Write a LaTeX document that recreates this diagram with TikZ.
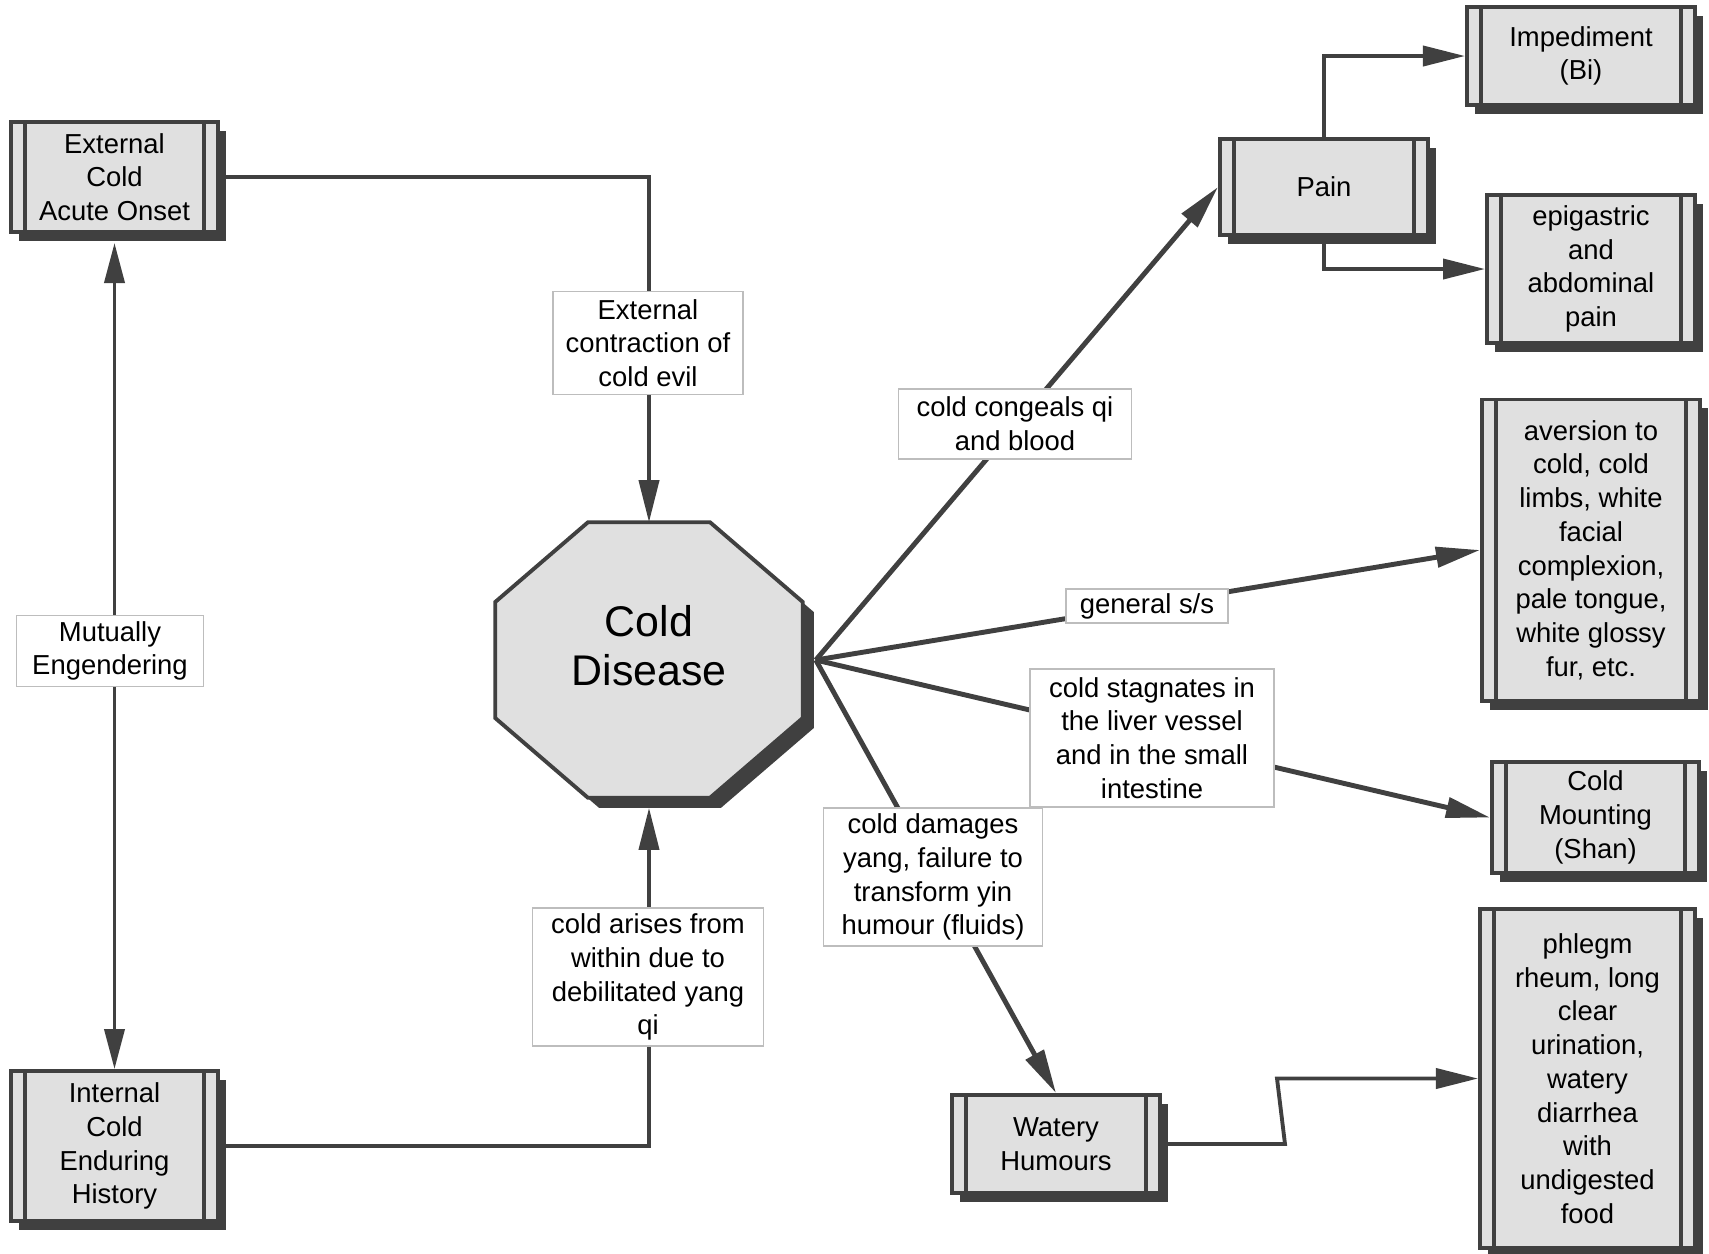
\documentclass[tikz,border=0pt]{standalone}
\usepackage{fontspec}
\setmainfont{Liberation Sans}
\usepackage{tikz}
\usetikzlibrary{calc,arrows.meta,shadows}
\definecolor{dgray}{HTML}{404040}
\definecolor{lgray}{HTML}{E0E0E0}
\definecolor{lblgray}{HTML}{BDBDBD}

\begin{document}
\begin{tikzpicture}[x=0.01cm,y=-0.01cm,
    box/.style={draw=dgray,line width=1.1pt,fill=lgray,align=center,inner sep=0pt,
      font=\fontsize{7.8}{9.6}\selectfont,
      drop shadow={shadow xshift=0.08cm,shadow yshift=-0.09cm,fill=dgray,opacity=1},
      path picture={\draw[dgray,line width=1.1pt]
        ([xshift=0.14cm]path picture bounding box.south west) -- ([xshift=0.14cm]path picture bounding box.north west)
        ([xshift=-0.14cm]path picture bounding box.south east) -- ([xshift=-0.14cm]path picture bounding box.north east);}},
    lbl/.style={draw=lblgray,line width=0.5pt,fill=white,align=center,inner sep=0pt,
      font=\fontsize{7.8}{9.6}\selectfont},
    elb/.style={draw=dgray,line width=1.1pt,-{Triangle[length=0.42cm,width=0.2cm]}},
    fan/.style={draw=dgray,line width=1.4pt,-{Triangle[length=0.44cm,width=0.2cm]}},
    octo/.style={draw=dgray,line width=1.1pt,fill=lgray,
      drop shadow={shadow xshift=0.11cm,shadow yshift=-0.1cm,fill=dgray,opacity=1}}]
  \useasboundingbox (0,0) rectangle (1709,1253);

  \node[box,minimum width=2.07cm,minimum height=1.10cm] (ext) at (114.5,177) {External\\Cold\\Acute Onset};
  \node[box,minimum width=2.07cm,minimum height=1.50cm] (int) at (114.5,1146) {Internal\\Cold\\Enduring\\History};

  \node[inner sep=0pt,minimum width=3.06cm,minimum height=2.74cm] (cold) at (649,660) {};
  \draw[octo] ($(cold.north)+(-61,0)$) -- ($(cold.north)+(61,0)$) -- ($(cold.east)+(0,-58)$)
    -- ($(cold.east)+(0,58)$) -- ($(cold.south)+(61,0)$) -- ($(cold.south)+(-61,0)$)
    -- ($(cold.west)+(0,58)$) -- ($(cold.west)+(0,-58)$) -- cycle;
  \node[font=\fontsize{12.2}{14}\selectfont,align=center] (coldtxt) at (649,646) {Cold\\Disease};

  \node[box,minimum width=2.08cm,minimum height=0.96cm] (pain) at (1324,187) {Pain};
  \node[box,minimum width=2.28cm,minimum height=0.98cm] (imp) at (1581,56) {Impediment\\(Bi)};
  \node[box,minimum width=2.08cm,minimum height=1.48cm] (epi) at (1591,269) {epigastric\\and\\abdominal\\pain};
  \node[box,minimum width=2.18cm,minimum height=3.01cm] (avers) at (1591,550)
    {aversion to\\cold, cold\\limbs, white\\facial\\complexion,\\pale tongue,\\white glossy\\fur, etc.};
  \node[box,minimum width=2.07cm,minimum height=1.11cm] (mount) at (1595.5,817.5) {Cold\\Mounting\\(Shan)};
  \node[box,minimum width=2.15cm,minimum height=3.39cm] (phlegm) at (1587.5,1078.5)
    {phlegm\\rheum, long\\clear\\urination,\\watery\\diarrhea\\with\\undigested\\food};
  \node[box,minimum width=2.08cm,minimum height=0.98cm] (water) at (1056,1144) {Watery\\Humours};

  \draw[elb] (ext.east) -| (cold.north);
  \draw[elb] (int.east) -| ([yshift=-0.1cm]cold.south);
  \draw[draw=dgray,line width=1.1pt,{Triangle[length=0.4cm,width=0.2cm]}-{Triangle[length=0.4cm,width=0.2cm]}]
    ([yshift=-0.09cm]ext.south) -- (int.north);

  \coordinate (hub) at ([xshift=0.13cm]cold.east);
  \draw[fan] (hub) -- (pain.west);
  \draw[fan] (hub) -- (avers.west);
  \draw[fan] (hub) -- (mount.west);
  \draw[fan] (hub) -- (water.north);
  \draw[elb] (pain.north) |- (imp.west);
  \draw[elb] (pain.south) |- (epi.west);
  \draw[elb] (water.east) -- ++(123,0) -- ($(phlegm.west)+(-201,0)$) -- (phlegm.west);

  \node[lbl,minimum width=1.90cm,minimum height=1.03cm] (lext) at (648,343) {External\\contraction of\\cold evil};
  \node[lbl,minimum width=1.87cm,minimum height=0.71cm] (lmut) at (110,651) {Mutually\\Engendering};
  \node[lbl,minimum width=2.31cm,minimum height=1.38cm] (lint) at (648,977) {cold arises from\\within due to\\debilitated yang\\qi};
  \node[lbl,minimum width=2.33cm,minimum height=0.70cm] (lpain) at (1015,424) {cold congeals qi\\and blood};
  \node[lbl,minimum width=1.62cm,minimum height=0.34cm] (lgen) at (1147,606) {general s/s};
  \node[lbl,minimum width=2.44cm,minimum height=1.38cm] (lmount) at (1152,738)
    {cold stagnates in\\the liver vessel\\and in the small\\intestine};
  \node[lbl,minimum width=2.19cm,minimum height=1.38cm] (lwater) at (933,877)
    {cold damages\\yang, failure to\\transform yin\\humour (fluids)};
\end{tikzpicture}
\end{document}
